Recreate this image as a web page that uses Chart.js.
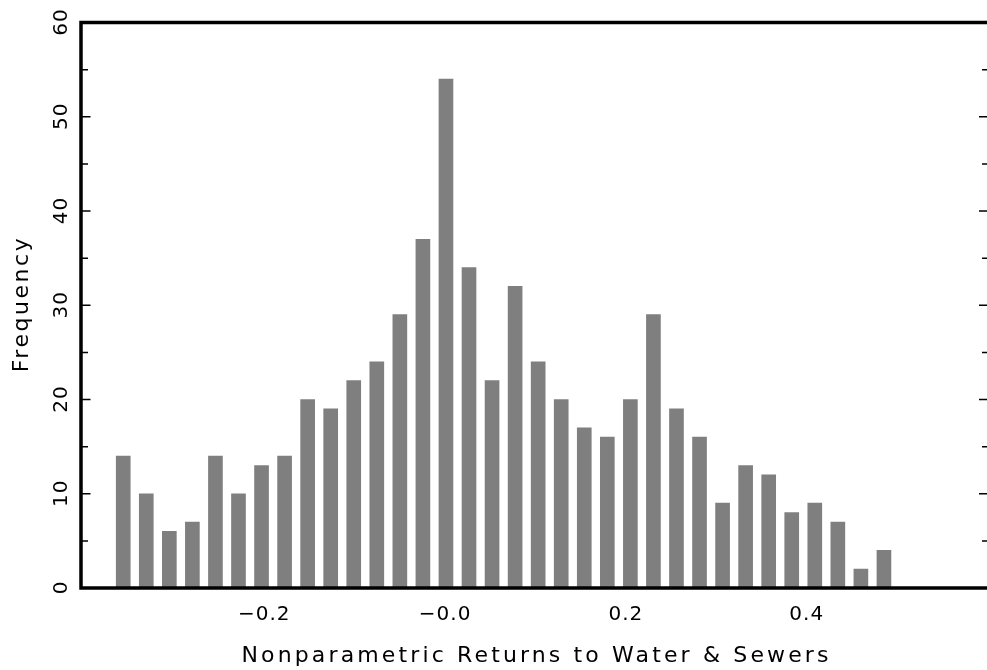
<!DOCTYPE html>
<html>
<head>
<meta charset="utf-8">
<script src="https://cdn.jsdelivr.net/npm/chart.js@4.4.0/dist/chart.umd.min.js"></script>
<style>
  html, body { margin: 0; padding: 0; background: #fff; overflow: hidden; }
  #wrap { width: 1000px; height: 670px; }
</style>
</head>
<body>
<div id="wrap"><canvas id="hist" width="1000" height="670"></canvas></div>
<script>
// histogram bins (centre of each bin) and the count read for each bar
const binCentres = [
    -0.3555, -0.3300, -0.3045, -0.2790, -0.2535, -0.2280, -0.2025, -0.1770,
    -0.1515, -0.1260, -0.1005, -0.0750, -0.0495, -0.0240, 0.0015, 0.0270,
    0.0525, 0.0780, 0.1035, 0.1290, 0.1545, 0.1800, 0.2055, 0.2310,
    0.2565, 0.2820, 0.3075, 0.3330, 0.3585, 0.3840, 0.4095, 0.4350,
    0.4605, 0.4860
];
const counts = [
    14, 10, 6, 7, 14, 10, 13, 14,
    20, 19, 22, 24, 29, 37, 54, 34,
    22, 32, 24, 20, 17, 16, 20, 29,
    19, 16, 9, 13, 12, 8, 9, 7,
    2, 4
];

// axis ticks
const yMajorTicks = [0, 10, 20, 30, 40, 50, 60];
const yMinorTicks = [5, 15, 25, 35, 45, 55];
const xTicks = [-0.2, 0.0, 0.2, 0.4];
const xTickLabels = ['\u22120.2', '\u22120.0', '0.2', '0.4'];

const xTitle = 'Nonparametric Returns to Water & Sewers';
const yTitle = 'Frequency';

const FONT = '"DejaVu Sans", sans-serif';

// text with extra spacing so it fills a given width
function spacedText(ctx, text, x, y, width) {
    ctx.letterSpacing = '0px';
    const w = ctx.measureText(text).width;
    const ls = width ? (width - w) / (text.length - 1) : 1;
    ctx.letterSpacing = ls + 'px';
    ctx.fillText(text, x + ls / 2, y);
    ctx.letterSpacing = '0px';
}

// frame, ticks, labels and titles drawn from the chart scales
const framePlugin = {
    id: 'frame',
    afterDatasetsDraw(chart) {
        const { ctx, chartArea: a, scales } = chart;
        const xs = scales.x, ys = scales.y;
        const left = a.left - 2;
        const right = a.right + 2;

        ctx.save();
        ctx.strokeStyle = '#000';
        ctx.lineWidth = 3.5;
        ctx.strokeRect(left, a.top, right - left, a.bottom - a.top);

        // ticks on the left and right edge, pointing inward
        ctx.lineWidth = 1.5;
        ctx.beginPath();
        yMajorTicks.forEach(v => {
            const py = ys.getPixelForValue(v);
            ctx.moveTo(left, py); ctx.lineTo(left + 9.5, py);
            ctx.moveTo(right, py); ctx.lineTo(right - 10, py);
        });
        yMinorTicks.forEach(v => {
            const py = ys.getPixelForValue(v);
            ctx.moveTo(left, py); ctx.lineTo(left + 7, py);
            ctx.moveTo(right, py); ctx.lineTo(right - 7, py);
        });
        ctx.stroke();

        ctx.fillStyle = '#000';
        ctx.font = '20px ' + FONT;
        ctx.textAlign = 'center';
        ctx.textBaseline = 'alphabetic';

        // y labels, turned to read upward
        yMajorTicks.forEach(v => {
            const py = ys.getPixelForValue(v);
            ctx.save();
            ctx.translate(60, py);
            ctx.rotate(-Math.PI / 2);
            spacedText(ctx, String(v), 0, 7.3, 0);
            ctx.restore();
        });

        // x labels
        xTicks.forEach((v, i) => {
            spacedText(ctx, xTickLabels[i], xs.getPixelForValue(v), 620, 0);
        });

        // titles
        ctx.font = '22px ' + FONT;
        spacedText(ctx, xTitle, (left + right) / 2, 662, 587);

        ctx.save();
        ctx.translate(28, (a.top + a.bottom) / 2);
        ctx.rotate(-Math.PI / 2);
        spacedText(ctx, yTitle, 0, 0, 134);
        ctx.restore();

        ctx.restore();
    }
};

new Chart(document.getElementById('hist'), {
    type: 'bar',
    data: {
        datasets: [{
            data: binCentres.map((c, i) => ({ x: c, y: counts[i] })),
            backgroundColor: '#7f7f7f',
            borderWidth: 0,
            barThickness: 14
        }]
    },
    options: {
        responsive: false,
        devicePixelRatio: 1,
        animation: false,
        layout: { padding: { left: 83, right: 13, top: 22.5, bottom: 82 } },
        plugins: { legend: { display: false }, tooltip: { enabled: false } },
        scales: {
            x: { type: 'linear', min: -0.4, max: 0.6, offset: false, display: false },
            y: { min: 0, max: 60, display: false }
        }
    },
    plugins: [framePlugin]
});
</script>
</body>
</html>
